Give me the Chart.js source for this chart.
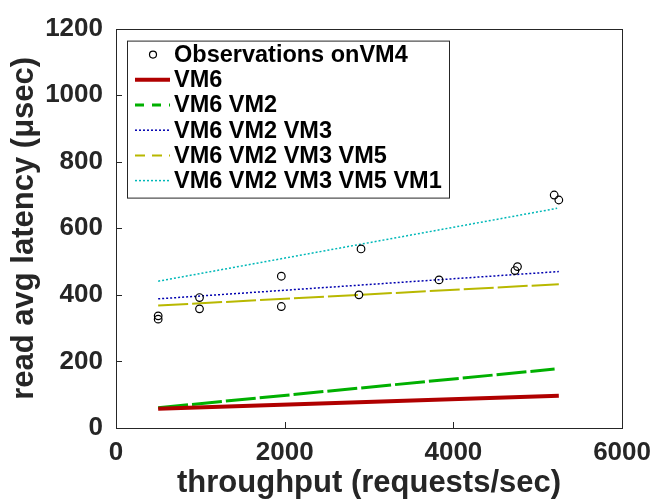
<!DOCTYPE html>
<html>
<head>
<meta charset="utf-8">
<script src="https://cdn.jsdelivr.net/npm/chart.js@4.4.1/dist/chart.umd.min.js"></script>
<style>
  html, body { margin: 0; padding: 0; background: #fff; }
  #wrap { width: 660px; height: 499px; }
</style>
</head>
<body>
<div id="wrap"><canvas id="c" width="660" height="499"></canvas></div>
<script>
// observed points (throughput, latency)
const obsX = [500, 500, 990, 990, 1960, 1960, 2880, 2905, 3830, 4730, 4760, 5195, 5250];
const obsY = [337, 327, 392, 358, 456, 365, 400, 538, 445, 473, 485, 700, 685];

// fitted lines: end points
const fitLabels = ['VM6', 'VM6 VM2', 'VM6 VM2 VM3', 'VM6 VM2 VM3 VM5', 'VM6 VM2 VM3 VM5 VM1'];
const fitX = [
    [500, 5250],
    [500, 5200],
    [500, 5250],
    [500, 5250],
    [500, 5230],
];
const fitY = [
    [58, 97],
    [61, 177],
    [388, 470],
    [368, 432],
    [441, 660],
];

const xTicks = [0, 2000, 4000, 6000];
const yTicks = [0, 200, 400, 600, 800, 1000, 1200];

const ink = '#262626';
const fam = "'Liberation Sans', Arial, sans-serif";

const lineStyles = [
    { color: 'rgb(176,0,0)', width: 4, dash: [] },
    { color: 'rgb(0,176,0)', width: 3, dash: [30, 4] },
    { color: 'rgb(0,0,176)', width: 1.5, dash: [2, 2] },
    { color: 'rgb(184,184,0)', width: 2, dash: [30, 4] },
    { color: 'rgb(0,184,184)', width: 1.5, dash: [2, 2] },
];
// legend swatch dash patterns
const legendDash = [[], [9, 8], [2, 2], [10, 7], [2, 2]];

const datasets = [{
    type: 'scatter',
    label: 'Observations onVM4',
    data: obsX.map((x, i) => ({ x: x, y: obsY[i] })),
    pointRadius: 3.8,
    pointBorderWidth: 1.2,
    pointBorderColor: '#000',
    pointBackgroundColor: 'rgba(0,0,0,0)',
    order: 0,
}];
fitLabels.forEach((name, k) => {
    const s = lineStyles[k];
    datasets.push({
        type: 'line',
        label: name,
        data: fitX[k].map((x, i) => ({ x: x, y: fitY[k][i] })),
        borderColor: s.color,
        borderWidth: s.width,
        borderDash: s.dash,
        pointRadius: 0,
        fill: false,
        tension: 0,
        order: 1,
    });
});

// box, inward ticks and the legend inside the axes
const axesDecor = {
    id: 'axesDecor',
    afterDatasetsDraw(chart) {
        const ctx = chart.ctx;
        const a = chart.chartArea;
        const xs = chart.scales.x, ys = chart.scales.y;
        ctx.save();
        ctx.strokeStyle = ink;
        ctx.lineWidth = 1;
        ctx.strokeRect(Math.round(a.left) + 0.5, Math.round(a.top) + 0.5,
            Math.round(a.right - a.left), Math.round(a.bottom - a.top));
        ctx.beginPath();
        xTicks.forEach(v => {
            const px = Math.round(xs.getPixelForValue(v)) + 0.5;
            ctx.moveTo(px, a.bottom);
            ctx.lineTo(px, a.bottom - 6);
        });
        yTicks.forEach(v => {
            const py = Math.round(ys.getPixelForValue(v)) + 0.5;
            ctx.moveTo(a.left, py);
            ctx.lineTo(a.left + 6, py);
        });
        ctx.stroke();

        // legend
        const lx = a.left + 11, ly = a.top + 12, lw = 322, lh = 157;
        ctx.fillStyle = '#fff';
        ctx.fillRect(lx, ly, lw, lh);
        ctx.strokeStyle = ink;
        ctx.strokeRect(lx + 0.5, ly + 0.5, lw, lh);
        ctx.font = 'bold 23.5px ' + fam;
        ctx.textBaseline = 'middle';
        ctx.fillStyle = '#000';
        chart.data.datasets.forEach((ds, i) => {
            const cy = ly + 14 + i * 25.2;
            if (i === 0) {
                ctx.beginPath();
                ctx.lineWidth = 1.2;
                ctx.strokeStyle = '#000';
                ctx.setLineDash([]);
                ctx.arc(lx + 26, cy, 3.5, 0, Math.PI * 2);
                ctx.stroke();
            } else {
                const s = lineStyles[i - 1];
                ctx.beginPath();
                ctx.lineWidth = s.width;
                ctx.strokeStyle = s.color;
                ctx.setLineDash(legendDash[i - 1]);
                ctx.moveTo(lx + 8, cy);
                ctx.lineTo(lx + 43, cy);
                ctx.stroke();
            }
            ctx.setLineDash([]);
            ctx.fillText(ds.label, lx + 47, cy + 1);
        });
        ctx.restore();
    }
};

new Chart(document.getElementById('c'), {
    data: { datasets: datasets },
    options: {
        responsive: false,
        animation: false,
        layout: { padding: { top: 23, right: 34, bottom: 0, left: 0 } },
        plugins: {
            legend: { display: false },
            tooltip: { enabled: false },
        },
        scales: {
            x: {
                type: 'linear',
                min: 0,
                max: 6000,
                afterFit(scale) { scale.height = 71; },
                afterBuildTicks(scale) { scale.ticks = xTicks.map(v => ({ value: v })); },
                grid: { display: false, drawTicks: false },
                border: { display: false },
                ticks: {
                    color: ink, padding: 9, maxRotation: 0,
                    font: { family: fam, size: 26, weight: 'bold' },
                    callback: v => String(v),
                },
                title: {
                    display: true,
                    text: 'throughput (requests/sec)',
                    color: ink,
                    padding: { top: 0, bottom: 0 },
                    font: { family: fam, size: 31, weight: 'bold', lineHeight: 1.0 },
                },
            },
            y: {
                type: 'linear',
                min: 0,
                max: 1200,
                afterFit(scale) { scale.width = 116; },
                afterBuildTicks(scale) { scale.ticks = yTicks.map(v => ({ value: v })); },
                grid: { display: false, drawTicks: false },
                border: { display: false },
                ticks: {
                    color: ink, padding: 13,
                    font: { family: fam, size: 26, weight: 'bold' },
                    callback: v => String(v),
                },
                title: {
                    display: true,
                    text: 'read avg latency (μsec)',
                    color: ink,
                    padding: { top: 6, bottom: 0 },
                    font: { family: fam, size: 31, weight: 'bold', lineHeight: 1.2 },
                },
            },
        },
    },
    plugins: [axesDecor],
});
</script>
</body>
</html>
